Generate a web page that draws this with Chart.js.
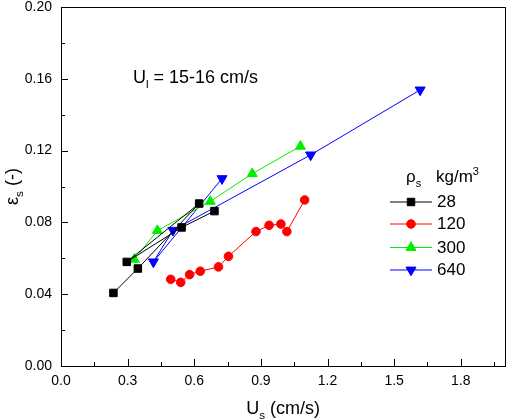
<!DOCTYPE html>
<html>
<head>
<meta charset="utf-8">
<script src="https://cdn.jsdelivr.net/npm/chart.js@4"></script>
<style>
  html, body { margin: 0; padding: 0; background: #fff; }
</style>
</head>
<body>
<canvas id="chart" width="512" height="420"></canvas>
<script>
// Series values (U_s in cm/s, eps_s in -)
const seriesLabels = ['28', '120', '300', '640'];

const x28 = [0.236, 0.346, 0.622, 0.296, 0.543, 0.691];
const y28 = [0.0407, 0.0543, 0.0905, 0.0580, 0.0772, 0.0863];

const x120 = [0.494, 0.539, 0.579, 0.627, 0.709, 0.754, 0.878, 0.937, 0.990, 1.017, 1.097];
const y120 = [0.0483, 0.0466, 0.0509, 0.0528, 0.0552, 0.0611, 0.0749, 0.0784, 0.0791, 0.0749, 0.0925];

const x300 = [0.330, 0.434, 0.672, 0.861, 1.078];
const y300 = [0.0594, 0.0754, 0.0917, 0.1071, 0.1224];

const x640 = [0.725, 0.416, 0.504, 1.124, 1.617];
const y640 = [0.1044, 0.0580, 0.0756, 0.1176, 0.1538];

// Tick labels
const xMajorTicks = [0.0, 0.3, 0.6, 0.9, 1.2, 1.5, 1.8];
const yMajorTicks = [0.00, 0.04, 0.08, 0.12, 0.16, 0.20];

// Annotation anchor (data coords)
const noteX = 0.324;
const noteY = 0.1575;

function toPoints(xs, ys) {
  return xs.map((x, i) => ({ x: x, y: ys[i] }));
}

// majors plus a minor tick half way between each pair
function withMinors(majors, max) {
  const out = [];
  const step = majors[1] - majors[0];
  majors.forEach(function(v) {
    out.push(v);
    const mid = v + step / 2;
    if (mid <= max + 1e-9) out.push(mid);
  });
  return out;
}

function isMajor(v, majors) {
  return majors.some(m => Math.abs(m - v) < 1e-6);
}

const FONT = '"Liberation Sans", Arial, sans-serif';

// draw text with sub / superscript pieces
function drawRich(ctx, parts, x, y, size) {
  let cx = x;
  parts.forEach(function(p) {
    const s = (p.sub || p.sup) ? size * 0.65 : size;
    ctx.font = s + 'px ' + FONT;
    let dy = 0;
    if (p.sub) dy = size * 0.28;
    if (p.sup) dy = -size * 0.42;
    ctx.fillText(p.t, cx, y + dy);
    cx += ctx.measureText(p.t).width;
  });
  return cx - x;
}

function richWidth(ctx, parts, size) {
  let w = 0;
  parts.forEach(function(p) {
    const s = (p.sub || p.sup) ? size * 0.65 : size;
    ctx.font = s + 'px ' + FONT;
    w += ctx.measureText(p.t).width;
  });
  return w;
}

const dataSets = [
  { label: seriesLabels[0], data: toPoints(x28, y28), color: '#000000', style: 'rect', radius: 5.3, rotation: 0 },
  { label: seriesLabels[1], data: toPoints(x120, y120), color: '#ff0000', style: 'circle', radius: 4.3, rotation: 0 },
  { label: seriesLabels[2], data: toPoints(x300, y300), color: '#00ee00', style: 'triangle', radius: 5.8, rotation: 0 },
  { label: seriesLabels[3], data: toPoints(x640, y640), color: '#0000ff', style: 'triangle', radius: 5.8, rotation: 180 }
];

// frame, inward ticks, titles, note and legend
const decorPlugin = {
  id: 'decor',
  afterDatasetsDraw(chart) {
    const ctx = chart.ctx;
    const a = chart.chartArea;
    const xs = chart.scales.x;
    const ys = chart.scales.y;
    ctx.save();
    ctx.strokeStyle = '#000';
    ctx.lineWidth = 1;

    // box
    ctx.strokeRect(Math.round(a.left) + 0.5, Math.round(a.top) + 0.5,
      Math.round(a.right - a.left), Math.round(a.bottom - a.top));

    // ticks pointing inside
    ctx.beginPath();
    xs.ticks.forEach(function(t) {
      const px = Math.round(xs.getPixelForValue(t.value)) + 0.5;
      const len = isMajor(t.value, xMajorTicks) ? 7 : 4;
      ctx.moveTo(px, a.bottom);
      ctx.lineTo(px, a.bottom - len);
    });
    ys.ticks.forEach(function(t) {
      const py = Math.round(ys.getPixelForValue(t.value)) + 0.5;
      const len = isMajor(t.value, yMajorTicks) ? 7 : 4;
      ctx.moveTo(a.left, py);
      ctx.lineTo(a.left + len, py);
    });
    ctx.stroke();

    ctx.fillStyle = '#000';
    ctx.textBaseline = 'alphabetic';
    ctx.textAlign = 'left';

    // x title
    const xTitle = [{ t: 'U' }, { t: 's', sub: true }, { t: ' (cm/s)' }];
    const xw = richWidth(ctx, xTitle, 18);
    drawRich(ctx, xTitle, (a.left + a.right) / 2 - xw / 2, 414, 18);

    // y title, rotated
    const yTitle = [{ t: 'ε' }, { t: 's', sub: true }, { t: ' (-)' }];
    const yw = richWidth(ctx, yTitle, 18);
    ctx.save();
    ctx.translate(18, (a.top + a.bottom) / 2);
    ctx.rotate(-Math.PI / 2);
    drawRich(ctx, yTitle, -yw / 2, 0, 18);
    ctx.restore();

    // note
    drawRich(ctx, [{ t: 'U' }, { t: 'l', sub: true }, { t: ' = 15-16 cm/s' }],
      xs.getPixelForValue(noteX), ys.getPixelForValue(noteY), 18);

    // legend
    drawRich(ctx, [{ t: 'ρ' }, { t: 's', sub: true }], 406, 182, 17);
    drawRich(ctx, [{ t: 'kg/m' }, { t: '3', sup: true }], 436, 182, 17);
    const rowY = [201.5, 223.5, 247, 269.5];
    chart.data.datasets.forEach(function(ds, i) {
      const y = rowY[i];
      ctx.strokeStyle = ds.borderColor;
      ctx.lineWidth = 1;
      ctx.beginPath();
      ctx.moveTo(390, y + 0.5);
      ctx.lineTo(432, y + 0.5);
      ctx.stroke();
      ctx.fillStyle = ds.borderColor;
      ctx.strokeStyle = ds.borderColor;
      Chart.helpers.drawPoint(ctx, {
        pointStyle: ds.pointStyle,
        radius: ds.pointRadius,
        rotation: ds.pointRotation,
        borderWidth: 1
      }, 411, y + 0.5);
      ctx.fillStyle = '#000';
      ctx.font = '17px ' + FONT;
      ctx.textBaseline = 'middle';
      ctx.fillText(ds.label, 437, y + 1);
      ctx.textBaseline = 'alphabetic';
    });

    ctx.restore();
  }
};

new Chart(document.getElementById('chart'), {
  type: 'line',
  data: {
    datasets: dataSets.map(d => ({
      label: d.label,
      data: d.data,
      borderColor: d.color,
      backgroundColor: d.color,
      pointBackgroundColor: d.color,
      pointBorderColor: d.color,
      borderWidth: 1,
      pointStyle: d.style,
      pointRadius: d.radius,
      pointRotation: d.rotation,
      pointBorderWidth: 1,
      tension: 0,
      fill: false
    }))
  },
  options: {
    responsive: false,
    animation: false,
    layout: { padding: { top: 7, right: 6, left: 0, bottom: 0 } },
    plugins: {
      legend: { display: false },
      tooltip: { enabled: false }
    },
    scales: {
      x: {
        type: 'linear',
        min: 0,
        max: 2.0,
        grid: { display: false, drawTicks: false },
        border: { display: false },
        afterBuildTicks(scale) {
          scale.ticks = withMinors(xMajorTicks, 2.0).map(v => ({ value: v }));
        },
        afterFit(scale) {
          scale.height = 54;
          scale.paddingLeft = 0;
          scale.paddingRight = 0;
        },
        ticks: {
          autoSkip: false,
          maxRotation: 0,
          padding: 8,
          color: '#000',
          font: { family: FONT, size: 14, lineHeight: 1 },
          callback: v => isMajor(v, xMajorTicks) ? v.toFixed(1) : ''
        }
      },
      y: {
        type: 'linear',
        min: 0,
        max: 0.2,
        grid: { display: false, drawTicks: false },
        border: { display: false },
        afterBuildTicks(scale) {
          scale.ticks = withMinors(yMajorTicks, 0.2).map(v => ({ value: v }));
        },
        afterFit(scale) {
          scale.width = 61;
          scale.paddingTop = 0;
          scale.paddingBottom = 0;
        },
        ticks: {
          autoSkip: false,
          padding: 9,
          color: '#000',
          font: { family: FONT, size: 14, lineHeight: 1 },
          callback: v => isMajor(v, yMajorTicks) ? v.toFixed(2) : ''
        }
      }
    }
  },
  plugins: [decorPlugin]
});
</script>
</body>
</html>
